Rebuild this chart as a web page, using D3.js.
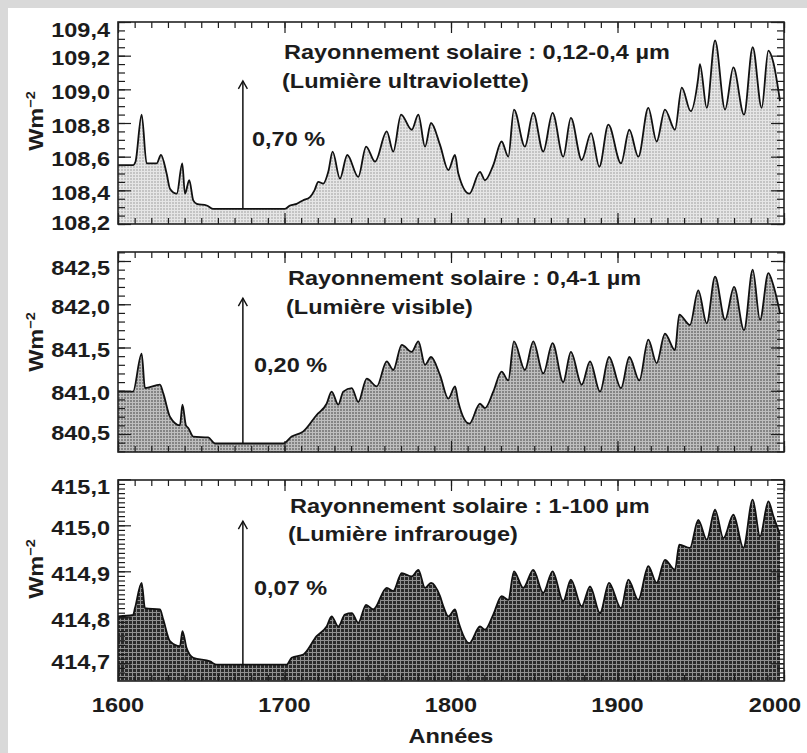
<!DOCTYPE html>
<html><head><meta charset="utf-8">
<script src="https://cdn.jsdelivr.net/npm/d3@7"></script>
<style>body{margin:0;background:#fff}svg{display:block}</style>
</head><body>
<svg id="chart" width="807" height="753"></svg>
<script>
// ---------- DATA ----------
const xTickYears = [1600, 1700, 1800, 1900, 2000];
const arrowYear = 1675;

const yearsUV = [1600,1609,1610.5,1614.2,1617.2,1623.2,1625.8,1629.2,1631.2,1635.3,1638.6,1640.2,1642.8,1645.2,1647.3,1653.3,1657,1700.3,1703.3,1707.3,1711,1715.3,1718,1720.3,1723.3,1726.3,1728.9,1733.3,1737.7,1744.3,1749,1754.4,1761.4,1765.3,1770,1776.4,1780.4,1784.4,1788,1793.4,1798.4,1802.4,1804.4,1811,1817.4,1820.4,1825.4,1830.4,1834.4,1837.8,1844.4,1849.4,1855.4,1861,1867.4,1872,1878.5,1884.1,1889.1,1894.5,1902.1,1907.1,1912.5,1918.5,1923.5,1928.5,1934.5,1938.6,1944,1948.5,1949.5,1953.6,1958.6,1964.6,1969.6,1976,1981.2,1986.6,1990.6,1993.6,1997.6];
const valuesUV = [108.55,108.55,108.57,108.85,108.56,108.56,108.61,108.50,108.41,108.38,108.56,108.38,108.46,108.34,108.32,108.31,108.29,108.29,108.31,108.32,108.34,108.36,108.40,108.45,108.44,108.51,108.63,108.47,108.61,108.48,108.66,108.57,108.75,108.63,108.85,108.76,108.85,108.66,108.80,108.67,108.52,108.61,108.50,108.38,108.51,108.46,108.55,108.69,108.60,108.88,108.66,108.86,108.63,108.86,108.60,108.83,108.58,108.74,108.54,108.79,108.56,108.76,108.60,108.89,108.69,108.88,108.76,109.01,108.87,109.07,109.15,108.89,109.29,108.88,109.13,108.85,109.25,108.89,109.23,109.16,108.93];

const yearsVIS = [1600,1609,1614.2,1616.2,1625.2,1627.2,1631.2,1637.2,1638.7,1640.8,1642.2,1645.2,1654.2,1658.3,1699.3,1704.3,1711.3,1719.3,1725.3,1728.3,1732.3,1735.3,1740.4,1744.3,1749.4,1755.4,1761.4,1765.3,1770.4,1776.4,1780.4,1784.4,1788,1793.4,1798.4,1802.4,1804.4,1811,1817.4,1820.4,1825.4,1830.4,1834.4,1837.8,1844.4,1849.4,1855.4,1861,1867.4,1872,1878.5,1883.5,1889.5,1894.9,1902.1,1907.1,1913.1,1918.5,1923.5,1928.5,1934.5,1937.1,1943.5,1948.5,1953.6,1958.6,1964.6,1970,1976,1981.2,1985.6,1990.6,1993.6,1997.6];
const valuesVIS = [840.99,840.99,841.43,841.03,841.07,840.97,840.70,840.60,840.84,840.60,840.57,840.47,840.46,840.39,840.39,840.47,840.53,840.72,840.85,840.99,840.84,840.99,841.03,840.87,841.14,841.05,841.34,841.24,841.53,841.45,841.57,841.30,841.39,841.18,840.91,841.05,840.87,840.62,840.85,840.80,840.99,841.22,841.12,841.57,841.24,841.57,841.20,841.55,841.10,841.45,841.07,841.34,840.99,841.39,841.03,841.39,841.12,841.59,841.32,841.66,841.47,841.88,841.76,842.16,841.78,842.32,841.82,842.20,841.70,842.40,841.82,842.36,842.22,841.90];

const yearsIR = [1600,1609,1610.2,1614.2,1616.2,1625.2,1627.2,1631.2,1637.2,1638.7,1641.2,1645.2,1655.3,1659.3,1701.3,1704.3,1711.3,1719.3,1725.3,1728.3,1732.3,1736.3,1740.4,1744.3,1749,1753.3,1761.4,1765.3,1770.4,1776.4,1780.4,1784.4,1788,1793.4,1795.4,1798.4,1802.4,1804.4,1811,1817.4,1820.4,1825.4,1830.4,1834.4,1837.8,1843.4,1849.4,1855.4,1861,1867.4,1872,1878.5,1883.5,1889.5,1894.9,1902.1,1906.5,1912.5,1918.5,1923.5,1928.5,1934.5,1937.1,1943.5,1948.5,1953.6,1958.6,1963.6,1969.6,1975.6,1981.2,1985.6,1990.6,1993.6,1997.6];
const valuesIR = [414.802,414.805,414.820,414.875,414.820,414.817,414.795,414.748,414.737,414.770,414.733,414.712,414.704,414.697,414.697,414.712,414.719,414.759,414.780,414.802,414.780,414.806,414.809,414.788,414.827,414.817,414.864,414.857,414.896,414.889,414.903,414.864,414.875,414.846,414.824,414.802,414.817,414.791,414.744,414.780,414.773,414.806,414.846,414.838,414.900,414.864,414.903,414.853,414.900,414.835,414.882,414.824,414.867,414.809,414.875,414.820,414.882,414.838,414.911,414.875,414.925,414.903,414.958,414.951,415.012,414.969,415.034,414.972,415.023,414.951,415.056,414.976,415.052,415.020,414.980];

const ticksUV = [108.2, 108.4, 108.6, 108.8, 109.0, 109.2, 109.4];
const ticksVIS = [840.5, 841.0, 841.5, 842.0, 842.5];
const ticksIR = [414.7, 414.8, 414.9, 415.0, 415.1];

const titles = ["Rayonnement solaire : 0,12-0,4 µm", "Rayonnement solaire : 0,4-1 µm", "Rayonnement solaire : 1-100 µm"];
const subtitles = ["(Lumière ultraviolette)", "(Lumière visible)", "(Lumière infrarouge)"];
const percentLabels = ["0,70 %", "0,20 %", "0,07 %"];
const arrowTops = [109.05, 842.07, 415.009];
const yAxisTitle = "Wm";
const yAxisSup = "−2";
const xAxisTitle = "Années";

// ---------- LAYOUT ----------
const SX = 1.12, FS = 21, FONT = "'Liberation Sans', Arial, Helvetica, sans-serif", INK = "#1c1c1c";
const L = 118, R = 784;
const panels = [
  {years: yearsUV, values: valuesUV, ticks: ticksUV, top: 22, bottom: 224, domain: [108.2, 109.4], minor: 0.05,
   fill: ["#c4c4c4", "#e6e6e6"], period: 3, titleX: 284, t1: 59, t2: 88, pctX: 252, pctY: 146, wmY: 121},
  {years: yearsVIS, values: valuesVIS, ticks: ticksVIS, top: 252, bottom: 452, domain: [840.292, 842.604], minor: 0.1,
   fill: ["#848484", "#bebebe"], period: 3, titleX: 288, t1: 285, t2: 314, pctX: 254, pctY: 372, wmY: 342},
  {years: yearsIR, values: valuesIR, ticks: ticksIR, top: 480, bottom: 681, domain: [414.6615, 415.0985], minor: 0.01,
   fill: ["#2a2a2a", "#909090"], period: 4, titleX: 290, t1: 513, t2: 541, pctX: 254, pctY: 595, wmY: 569}
];

const fr = d3.formatLocale({decimal: ",", thousands: "\u00a0", grouping: [3], currency: ["", "\u00a0€"]});
const fmt = fr.format(".1f");

const svg = d3.select("#chart");
svg.append("rect").attr("width", 807).attr("height", 753).attr("fill", "#d9d9d9");
svg.append("rect").attr("x", 8).attr("y", 8).attr("width", 799).attr("height", 745).attr("fill", "#ffffff");
const defs = svg.append("defs");

const x = d3.scaleLinear().domain([1600, 2000]).range([L, R]);

function txt(g, px, py, s, anchor, extra) {
  const t = g.append("text")
    .attr("transform", `translate(${px},${py}) scale(${SX},1)` + (extra || ""))
    .attr("text-anchor", anchor)
    .style("font-family", FONT).style("font-weight", "bold").style("font-size", FS + "px")
    .attr("fill", INK).text(s);
  return t;
}

function stepsBetween(d0, d1, step) {
  const a = Math.ceil(d0 / step - 1e-9), b = Math.floor(d1 / step + 1e-9);
  return d3.range(a, b + 1).map(i => +(i * step).toFixed(4));
}

panels.forEach((p, i) => {
  const y = d3.scaleLinear().domain(p.domain).range([p.bottom, p.top]);
  const g = svg.append("g");

  // pattern fill
  const pid = "pat" + i, k = p.period;
  const pat = defs.append("pattern").attr("id", pid).attr("patternUnits", "userSpaceOnUse")
    .attr("width", k).attr("height", k);
  pat.append("rect").attr("width", k).attr("height", k).attr("fill", p.fill[0]);
  pat.append("rect").attr("width", k).attr("height", 1).attr("fill", p.fill[1]);
  pat.append("rect").attr("width", 1).attr("height", k).attr("fill", p.fill[1]);

  const cid = "clip" + i;
  defs.append("clipPath").attr("id", cid).append("rect")
    .attr("x", L).attr("y", p.top).attr("width", R - L).attr("height", p.bottom - p.top);

  const data = p.years.map((yr, j) => [yr, p.values[j]]);
  const area = d3.area().curve(d3.curveMonotoneX).x(d => x(d[0])).y0(p.bottom).y1(d => y(d[1]));
  const line = d3.line().curve(d3.curveMonotoneX).x(d => x(d[0])).y(d => y(d[1]));
  const cg = g.append("g").attr("clip-path", `url(#${cid})`);
  cg.append("path").datum(data).attr("d", area).attr("fill", `url(#${pid})`);
  cg.append("path").datum(data).attr("d", line).attr("fill", "none")
    .attr("stroke", "#111").attr("stroke-width", 1.8).attr("stroke-linejoin", "round");

  // ticks (inward on all four sides)
  const xMinor = d3.range(1600, 2001, 10);
  const yMinor = stepsBetween(p.domain[0], p.domain[1], p.minor);
  const yMajor = p.ticks.filter(v => v >= p.domain[0] - 0.002 && v <= p.domain[1] + 0.002);
  const axes = [
    [d3.axisBottom(x).tickValues(xMinor).tickSize(-6), `translate(0,${p.bottom})`],
    [d3.axisBottom(x).tickValues(xTickYears).tickSize(-11), `translate(0,${p.bottom})`],
    [d3.axisTop(x).tickValues(xMinor).tickSize(-6), `translate(0,${p.top})`],
    [d3.axisTop(x).tickValues(xTickYears).tickSize(-11), `translate(0,${p.top})`],
    [d3.axisLeft(y).tickValues(yMinor).tickSize(-7), `translate(${L},0)`],
    [d3.axisLeft(y).tickValues(yMajor).tickSize(-13), `translate(${L},0)`],
    [d3.axisRight(y).tickValues(yMinor).tickSize(-7), `translate(${R},0)`],
    [d3.axisRight(y).tickValues(yMajor).tickSize(-13), `translate(${R},0)`]
  ];
  axes.forEach(([ax, tr]) => {
    const ag = g.append("g").attr("transform", tr).call(ax.tickFormat(""));
    ag.select(".domain").remove();
    ag.selectAll("line").attr("stroke", INK).attr("stroke-width", 1.2);
    ag.selectAll("text").remove();
  });

  // frame
  g.append("rect").attr("x", L).attr("y", p.top).attr("width", R - L).attr("height", p.bottom - p.top)
    .attr("fill", "none").attr("stroke", "#222").attr("stroke-width", 1.6);

  // y tick labels
  p.ticks.forEach((v, j) => {
    let ty = y(v) + 2;
    if (j === 0) ty -= 4;
    if (j === p.ticks.length - 1) ty += 5;
    txt(g, 110, ty + 7.5, fmt(v), "end");
  });

  // y axis title
  const wm = g.append("text")
    .attr("transform", `translate(43,${p.wmY}) rotate(-90) scale(${SX},1)`)
    .attr("text-anchor", "middle")
    .style("font-family", FONT).style("font-weight", "bold").style("font-size", FS + "px").attr("fill", INK);
  wm.append("tspan").text(yAxisTitle);
  wm.append("tspan").attr("dy", -8).style("font-size", "13px").text(yAxisSup);

  // titles
  txt(g, p.titleX, p.t1, titles[i], "start");
  txt(g, p.titleX - 2, p.t2, subtitles[i], "start");
  txt(g, p.pctX, p.pctY, percentLabels[i], "start");

  // arrow
  const ax0 = x(arrowYear), yb = y(d3.min(p.values)), yt = y(arrowTops[i]);
  g.append("line").attr("x1", ax0).attr("x2", ax0).attr("y1", yb).attr("y2", yt)
    .attr("stroke", "#111").attr("stroke-width", 1.5);
  g.append("path").attr("d", `M${ax0 - 4.5},${yt + 8} L${ax0},${yt} L${ax0 + 4.5},${yt + 8}`)
    .attr("fill", "none").attr("stroke", "#111").attr("stroke-width", 1.4);

  // x labels on bottom panel only
  if (i === panels.length - 1) {
    xTickYears.forEach(yr => {
      let cx = x(yr);
      const half = 26;
      if (cx + half > 801) cx = 801 - half;
      txt(g, cx, 712, String(yr), "middle");
    });
    txt(g, x(1800), 743, xAxisTitle, "middle");
  }
});
</script>
</body></html>
